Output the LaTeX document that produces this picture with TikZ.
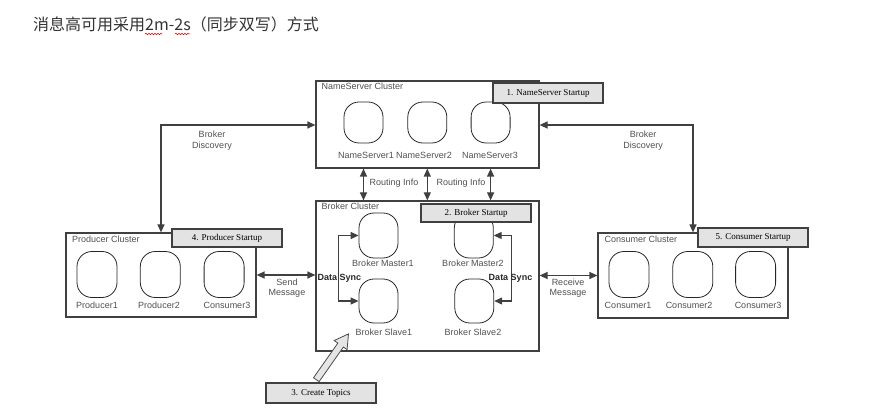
\documentclass[tikz,border=0pt]{standalone}
\usepackage{fontspec}
\newfontfamily\cjk{Noto Sans CJK SC}
\newfontfamily\labelfont{Liberation Sans}
\newfontfamily\stepfont{Liberation Serif}
\usetikzlibrary{arrows.meta, positioning, calc, shapes.arrows, decorations.pathmorphing}

\definecolor{linegray}{HTML}{404040}
\definecolor{textgray}{HTML}{505050}
\definecolor{stepfill}{HTML}{E3E3E3}

\begin{document}
\begin{tikzpicture}[
    x=1pt, y=-1pt,
    cluster/.style={
        rectangle,
        draw=linegray,
        line width=1.2pt,
        inner sep=0pt
    },
    server/.style={
        rectangle,
        draw=black!85,
        line width=0.8pt,
        rounded corners=15pt,
        minimum width=39pt,
        minimum height=44pt,
        inner sep=0pt
    },
    ctitle/.style={anchor=west, inner sep=0pt, text=textgray,
        font=\labelfont\fontsize{9}{10}\selectfont},
    slabel/.style={inner sep=0pt, text=textgray, align=center,
        font=\labelfont\fontsize{9}{10.5}\selectfont},
    stepbox/.style={
        rectangle,
        draw=linegray,
        fill=stepfill,
        line width=1.2pt,
        minimum width=110pt,
        minimum height=19pt,
        inner sep=0pt,
        font=\stepfont\fontsize{9}{10}\selectfont
    },
    link/.style={draw=linegray, line width=1.2pt,
        {Triangle[length=8pt,width=7pt]}-{Triangle[length=8pt,width=7pt]}},
    sync/.style={inner sep=0pt, text=black!85,
        font=\labelfont\bfseries\fontsize{9}{10}\selectfont},
    topicarrow/.style={
        single arrow,
        draw=black!70,
        fill=black!10,
        line width=0.8pt,
        minimum height=56pt,
        inner sep=3pt,
        single arrow head extend=4.5pt,
        single arrow tip angle=60
    }
]
\useasboundingbox (0,0) rectangle (888,419);

% title
\node[anchor=west, inner sep=0pt, text=black!80, font=\cjk\fontsize{16}{18}\selectfont]
    (title) at (33,24) {消息高可用采用2m-2s（同步双写）方式};
\draw[red!85!black, line width=0.5pt, decorate,
      decoration={snake, amplitude=0.8pt, segment length=3pt}] (145,34) -- (162,34);
\draw[red!85!black, line width=0.5pt, decorate,
      decoration={snake, amplitude=0.8pt, segment length=3pt}] (175,34) -- (190,34);

% clusters
\node[cluster, minimum width=223pt, minimum height=87pt] (ns) at (427.5,124.5) {};
\node[cluster, minimum width=223pt, minimum height=150pt] (broker) at (427.5,276) {};
\node[cluster, minimum width=190pt, minimum height=84pt] (prod) at (161,275) {};
\node[cluster, minimum width=190pt, minimum height=85pt] (cons) at (693,275.5) {};

\node[ctitle] (nstitle) at ($(ns.north west)+(6,5.5)$) {NameServer Cluster};
\node[ctitle] (brokertitle) at ($(broker.north west)+(6,5.5)$) {Broker Cluster};
\node[ctitle] (prodtitle) at ($(prod.north west)+(6.5,7)$) {Producer Cluster};
\node[ctitle] (constitle) at ($(cons.north west)+(7,7)$) {Consumer Cluster};

% name servers
\node[server, minimum height=41pt] (ns1) at (363.5,122.5) {};
\node[server, minimum height=41pt, right=24pt of ns1] (ns2) {};
\node[server, minimum height=41pt, right=23.5pt of ns2] (ns3) {};
\node[slabel] (ns1lbl) at (366,155) {NameServer1};
\node[slabel] (ns2lbl) at (424,155) {NameServer2};
\node[slabel] (ns3lbl) at (490,155) {NameServer3};

% brokers
\node[server, minimum height=45pt] (bm1) at (378.5,235.5) {};
\node[server, minimum height=45pt, right=55.5pt of bm1] (bm2) {};
\node[server] (bs1) at (378.5,301) {};
\node[server, right=56pt of bs1] (bs2) {};
\node[slabel] (bm1lbl) at (383,263) {Broker Master1};
\node[slabel] (bm2lbl) at (473,263) {Broker Master2};
\node[slabel] (bs1lbl) at (384,332) {Broker Slave1};
\node[slabel] (bs2lbl) at (473,332) {Broker Slave2};

% producers
\node[server, minimum width=40pt, minimum height=46pt] (p1) at (97,274.5) {};
\node[server, minimum width=40pt, minimum height=46pt, right=22.5pt of p1] (p2) {};
\node[server, minimum width=40pt, minimum height=46pt, right=23pt of p2] (pc3) {};
\node[slabel] (p1lbl) at (97,305) {Producer1};
\node[slabel] (p2lbl) at (159,305) {Producer2};
\node[slabel] (pc3lbl) at (227,305) {Consumer3};

% consumers
\node[server, minimum width=40pt, minimum height=46pt] (c1) at (629,274.5) {};
\node[server, minimum width=40pt, minimum height=46pt, right=23pt of c1] (c2) {};
\node[server, minimum width=40pt, minimum height=46pt, right=22pt of c2] (c3) {};
\node[slabel] (c1lbl) at (628,305) {Consumer1};
\node[slabel] (c2lbl) at (689,305) {Consumer2};
\node[slabel] (c3lbl) at (758,305) {Consumer3};

% startup steps
\node[stepbox, minimum height=20pt] (nsstart) at (548,93) {1. NameServer Startup};
\node[stepbox, minimum height=18pt] (brokerstart) at (476,213) {2. Broker Startup};
\node[stepbox, minimum height=20pt] (topics) at (321,393) {3. Create Topics};
\node[stepbox, minimum height=18pt] (prodstart) at (227,238) {4. Producer Startup};
\node[stepbox, minimum height=19pt] (consstart) at (753,237.5) {5. Consumer Startup};

% routing info
\draw[link] (ns.south -| ns1) -- (broker.north -| ns1);
\draw[link] (ns.south -| ns2) -- (broker.north -| ns2);
\draw[link] (ns.south -| ns3) -- (broker.north -| ns3);
\node[slabel] (route1) at (394,183.5) {Routing Info};
\node[slabel] (route2) at (461,183.5) {Routing Info};

% broker discovery
\coordinate (ldisc) at (161,125);
\coordinate (rdisc) at (693,125);
\draw[link] (ns.west |- ldisc) -- (ldisc) -- (ldisc |- prod.north);
\draw[link] (ns.east |- rdisc) -- (rdisc) -- (rdisc |- cons.north);
\node[slabel] (ldisclbl) at (212,140.5) {Broker\\Discovery};
\node[slabel] (rdisclbl) at (643,140.5) {Broker\\Discovery};

% messages
\draw[link] (prod.east) -- (prod.east -| broker.west);
\draw[link] (cons.west -| broker.east) -- (cons.west);
\node[slabel] (sendlbl) at (287,288) {Send\\Message};
\node[slabel] (recvlbl) at (568,288) {Receive\\Message};

% data sync
\draw[link] (bm1.west) -- ++(-20,0) |- (bs1.west);
\draw[link] (bm2.east) -- ++(18,0) |- (bs2.east);
\node[sync] (lsync) at (339.5,278) {Data Sync};
\node[sync] (rsync) at (510.5,278) {Data Sync};

% create topics
\coordinate (topictail) at ($(topics.north west)+(49,0)$);
\coordinate (topictip) at (347,336);
\path (topictail) -- node[topicarrow, sloped] (topicptr) {} (topictip);
\end{tikzpicture}
\end{document}
